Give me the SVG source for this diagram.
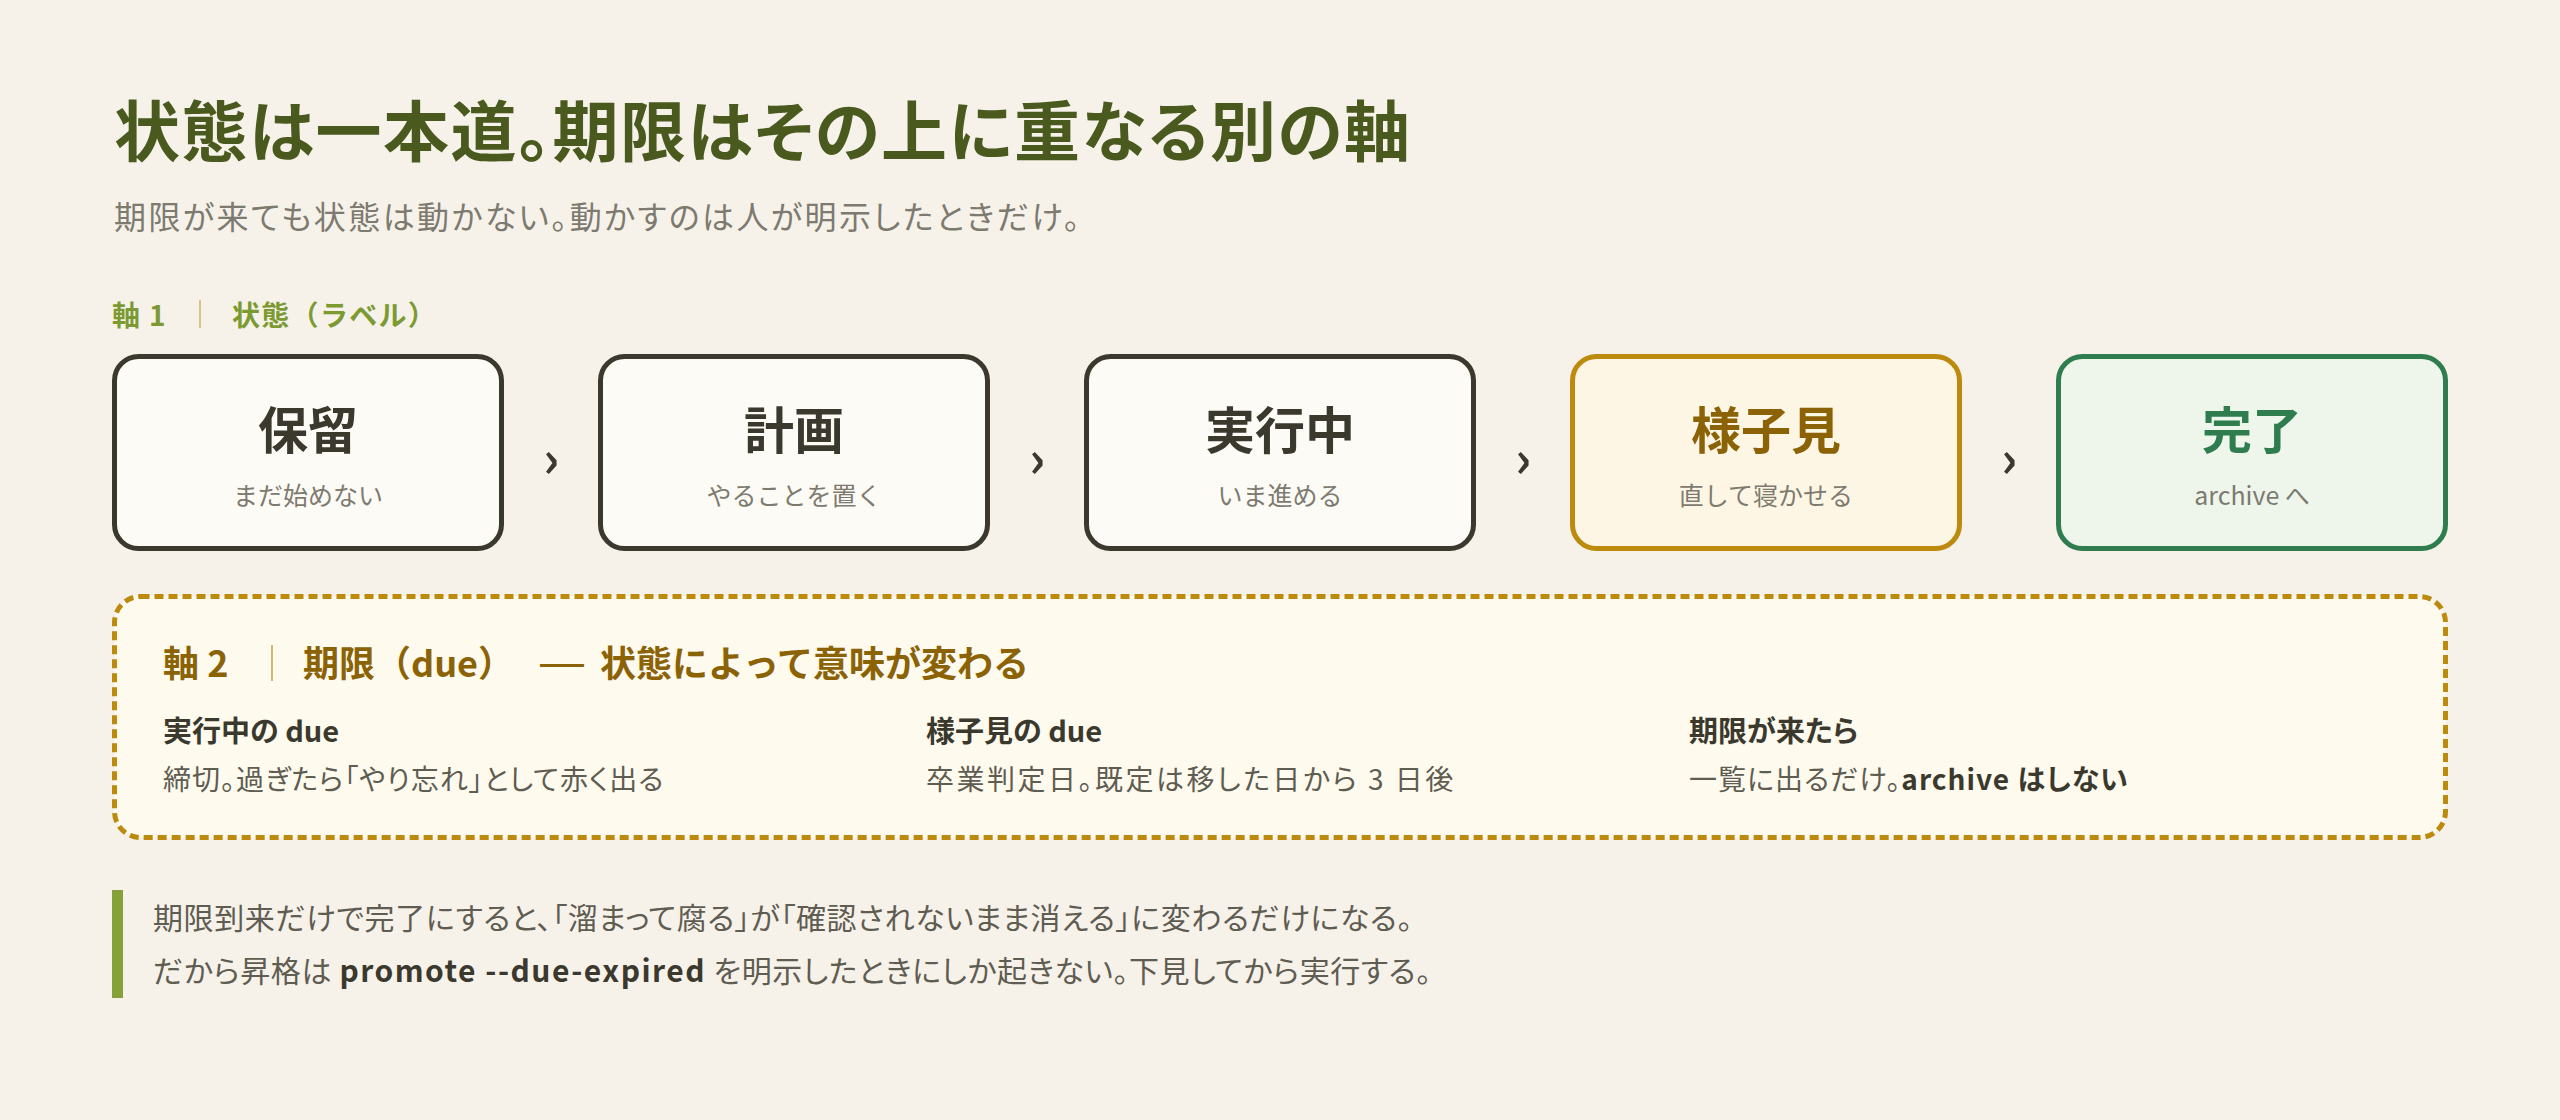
<svg xmlns="http://www.w3.org/2000/svg" width="2560" height="1120" viewBox="0 0 2560 1120">
<style>
text{font-family:"Noto Sans CJK JP","Noto Sans",sans-serif;font-feature-settings:"palt"}
.title{font-size:66px;font-weight:700;fill:#4a5a1e;letter-spacing:1.5px}
.sub{font-size:32px;fill:#7d7a70;letter-spacing:2.4px}
.ax1{font-size:28px;font-weight:700;fill:#7c9a32;font-feature-settings:normal;letter-spacing:1.3px}
.sep1{stroke:#cdb76a;stroke-width:1.5}
.sep2{stroke:#c9a040;stroke-width:1.5}
.box{fill:#fdfbf5;stroke:#3b392e;stroke-width:5}
.box.amber{fill:#fef6e5;stroke:#bc8a0d}
.box.green{fill:#eef6ec;stroke:#2f7d4f}
.bt{font-size:50px;font-weight:700;fill:#3b392e;text-anchor:middle}
.bt.amber{fill:#8b6306}
.bt.green{fill:#2f7d4f}
.bs{font-size:25px;fill:#7d7a70;text-anchor:middle;font-feature-settings:normal}
.chev{font-size:50px;font-weight:700;fill:#3b392e;text-anchor:middle}
.dash{fill:#fefaee;stroke:#bc8a0d;stroke-width:5;stroke-dasharray:9 5}
.ax2{font-size:36px;font-weight:700;fill:#8b6306;font-feature-settings:normal}
.ch{font-size:29px;font-weight:700;fill:#3b392e}
.cb{font-size:28px;fill:#5f5c52;letter-spacing:1px}
.b{font-weight:700;fill:#3b392e}
.note{font-size:30px;fill:#5f5c52;letter-spacing:0.6px}
.cmd{letter-spacing:1.5px}
</style>
<rect width="2560" height="1120" fill="#f6f2ea"/>
<g id="header">
<text class="title" x="114" y="156">状態は一本道。期限はその上に重なる別の軸</text>
<text class="sub" x="114" y="229">期限が来ても状態は動かない。動かすのは人が明示したときだけ。</text>
<text class="ax1" x="112" y="326">軸 1<tspan x="232">状態（ラベル）</tspan></text>
<line class="sep1" x1="200" y1="300" x2="200" y2="328"/>
</g>
<g id="connectors">
<text class="chev" x="551" y="477">›</text>
<text class="chev" x="1037" y="477">›</text>
<text class="chev" x="1523" y="477">›</text>
<text class="chev" x="2009" y="477">›</text>
</g>
<g id="node-hold">
<rect class="box" x="114.5" y="356.5" width="387" height="192" rx="24"/>
<text class="bt" x="308" y="449">保留</text>
<text class="bs" x="308" y="505">まだ始めない</text>
</g>
<g id="node-plan">
<rect class="box" x="600.5" y="356.5" width="387" height="192" rx="24"/>
<text class="bt" x="794" y="449">計画</text>
<text class="bs" x="794" y="505">やることを置く</text>
</g>
<g id="node-doing">
<rect class="box" x="1086.5" y="356.5" width="387" height="192" rx="24"/>
<text class="bt" x="1280" y="449">実行中</text>
<text class="bs" x="1280" y="505">いま進める</text>
</g>
<g id="node-watch">
<rect class="box amber" x="1572.5" y="356.5" width="387" height="192" rx="24"/>
<text class="bt amber" x="1766" y="449">様子見</text>
<text class="bs" x="1766" y="505">直して寝かせる</text>
</g>
<g id="node-done">
<rect class="box green" x="2058.5" y="356.5" width="387" height="192" rx="24"/>
<text class="bt green" x="2252" y="449">完了</text>
<text class="bs" x="2252" y="505">archive へ</text>
</g>
<g id="axis2">
<rect class="dash" x="114.5" y="596.5" width="2331" height="241" rx="26"/>
<text class="ax2" x="163" y="677">軸 2<tspan x="303">期限（due）</tspan><tspan x="540" style="font-family:'Liberation Sans',sans-serif;font-size:44px;font-weight:400">—</tspan><tspan x="600">状態によって意味が変わる</tspan></text>
<line class="sep2" x1="272" y1="645" x2="272" y2="681"/>
<text class="ch" x="163" y="742">実行中の due</text>
<text class="cb" x="163" y="790">締切。過ぎたら「やり忘れ」として赤く出る</text>
<text class="ch" x="926" y="742">様子見の due</text>
<text class="cb" x="926" y="790" style="letter-spacing:2.5px">卒業判定日。既定は移した日から 3 日後</text>
<text class="ch" x="1689" y="742">期限が来たら</text>
<text class="cb" x="1689" y="790">一覧に出るだけ。<tspan class="b">archive はしない</tspan></text>
</g>
<g id="note">
<rect x="112" y="890" width="11" height="108" fill="#86a03a"/>
<text class="note" x="153" y="929">期限到来だけで完了にすると、「溜まって腐る」が「確認されないまま消える」に変わるだけになる。</text>
<text class="note" x="153" y="982">だから昇格は <tspan class="b cmd">promote --due-expired</tspan> を明示したときにしか起きない。下見してから実行する。</text>
</g>
</svg>
